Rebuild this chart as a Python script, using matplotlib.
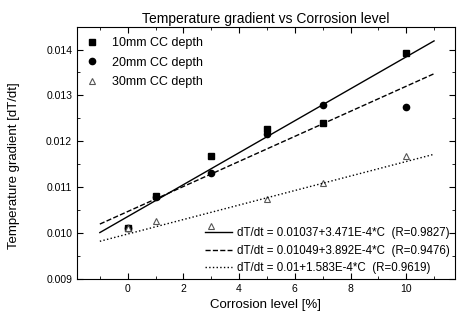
import matplotlib
matplotlib.use("Agg")
import matplotlib.pyplot as plt
import numpy as np
from matplotlib.ticker import MultipleLocator

plt.rcParams['font.family'] = ['Liberation Sans', 'DejaVu Sans']

corrosion = [0, 1, 3, 5, 7, 10]
grad_10mm = [0.01011, 0.01080, 0.01168, 0.01226, 0.01241, 0.01392]
grad_20mm = [0.01011, 0.01078, 0.01131, 0.01217, 0.01280, 0.01275]
grad_30mm = [0.01011, 0.01027, 0.01015, 0.01075, 0.01109, 0.01168]

series_labels = ["10mm CC depth", "20mm CC depth", "30mm CC depth"]
# fitted lines as drawn in the chart
fit_intercepts = [0.01036, 0.01047, 0.00998]
fit_slopes = [3.48e-4, 2.73e-4, 1.58e-4]
fit_labels = ["dT/dt = 0.01037+3.471E-4*C  (R=0.9827)",
              "dT/dt = 0.01049+3.892E-4*C  (R=0.9476)",
              "dT/dt = 0.01+1.583E-4*C  (R=0.9619)"]
fit_range = [-1, 11]

fig = plt.figure(figsize=(4.57, 3.22), dpi=100)
ax = fig.add_axes([0.1685, 0.1335, 0.827, 0.7825])

h1, = ax.plot(corrosion, grad_10mm, 's', color='black', ms=4.5, label=series_labels[0], linestyle='none')
h2, = ax.plot(corrosion, grad_20mm, 'o', color='black', ms=4.5, label=series_labels[1], linestyle='none')
h3, = ax.plot(corrosion, grad_30mm, '^', mfc='white', mec='#555555', ms=4, mew=0.8, label=series_labels[2], linestyle='none')

styles = ['-', '--', ':']
fit_handles = []
xs = np.array(fit_range, dtype=float)
for b, m, lab, ls in zip(fit_intercepts, fit_slopes, fit_labels, styles):
    hl, = ax.plot(xs, b + m * xs, color='black', lw=1.0, ls=ls, label=lab)
    fit_handles.append(hl)

ax.set_xlim(-1.82, 11.75)
ax.set_ylim(0.009, 0.01449)
ax.xaxis.set_major_locator(MultipleLocator(2))
ax.xaxis.set_minor_locator(MultipleLocator(1))
ax.yaxis.set_major_locator(MultipleLocator(0.001))
ax.yaxis.set_minor_locator(MultipleLocator(0.0005))
ax.yaxis.set_major_formatter(matplotlib.ticker.FormatStrFormatter('%.3f'))
ax.tick_params(which='both', direction='in', top=True, right=True, labelsize=7.5)
ax.tick_params(which='major', length=4)
ax.tick_params(which='minor', length=2)

ax.set_title("Temperature gradient vs Corrosion level", fontsize=10, pad=3)
ax.set_xlabel("Corrosion level [%]", fontsize=9.5)
ax.set_ylabel("Temperature gradient [dT/dt]", fontsize=9.5)
ax.yaxis.set_label_coords(-0.15, 0.45)

leg1 = ax.legend(handles=[h1, h2, h3], loc='upper left', frameon=False, fontsize=9,
                 handletextpad=0.6, borderaxespad=0.1, labelspacing=0.6,
                 bbox_to_anchor=(-0.01, 0.985))
ax.add_artist(leg1)
ax.legend(handles=fit_handles, loc='lower right', frameon=False, fontsize=8.3,
          handlelength=2.4, handletextpad=0.4, borderaxespad=0.05, labelspacing=0.45)

fig.savefig("out.png", dpi=100)
